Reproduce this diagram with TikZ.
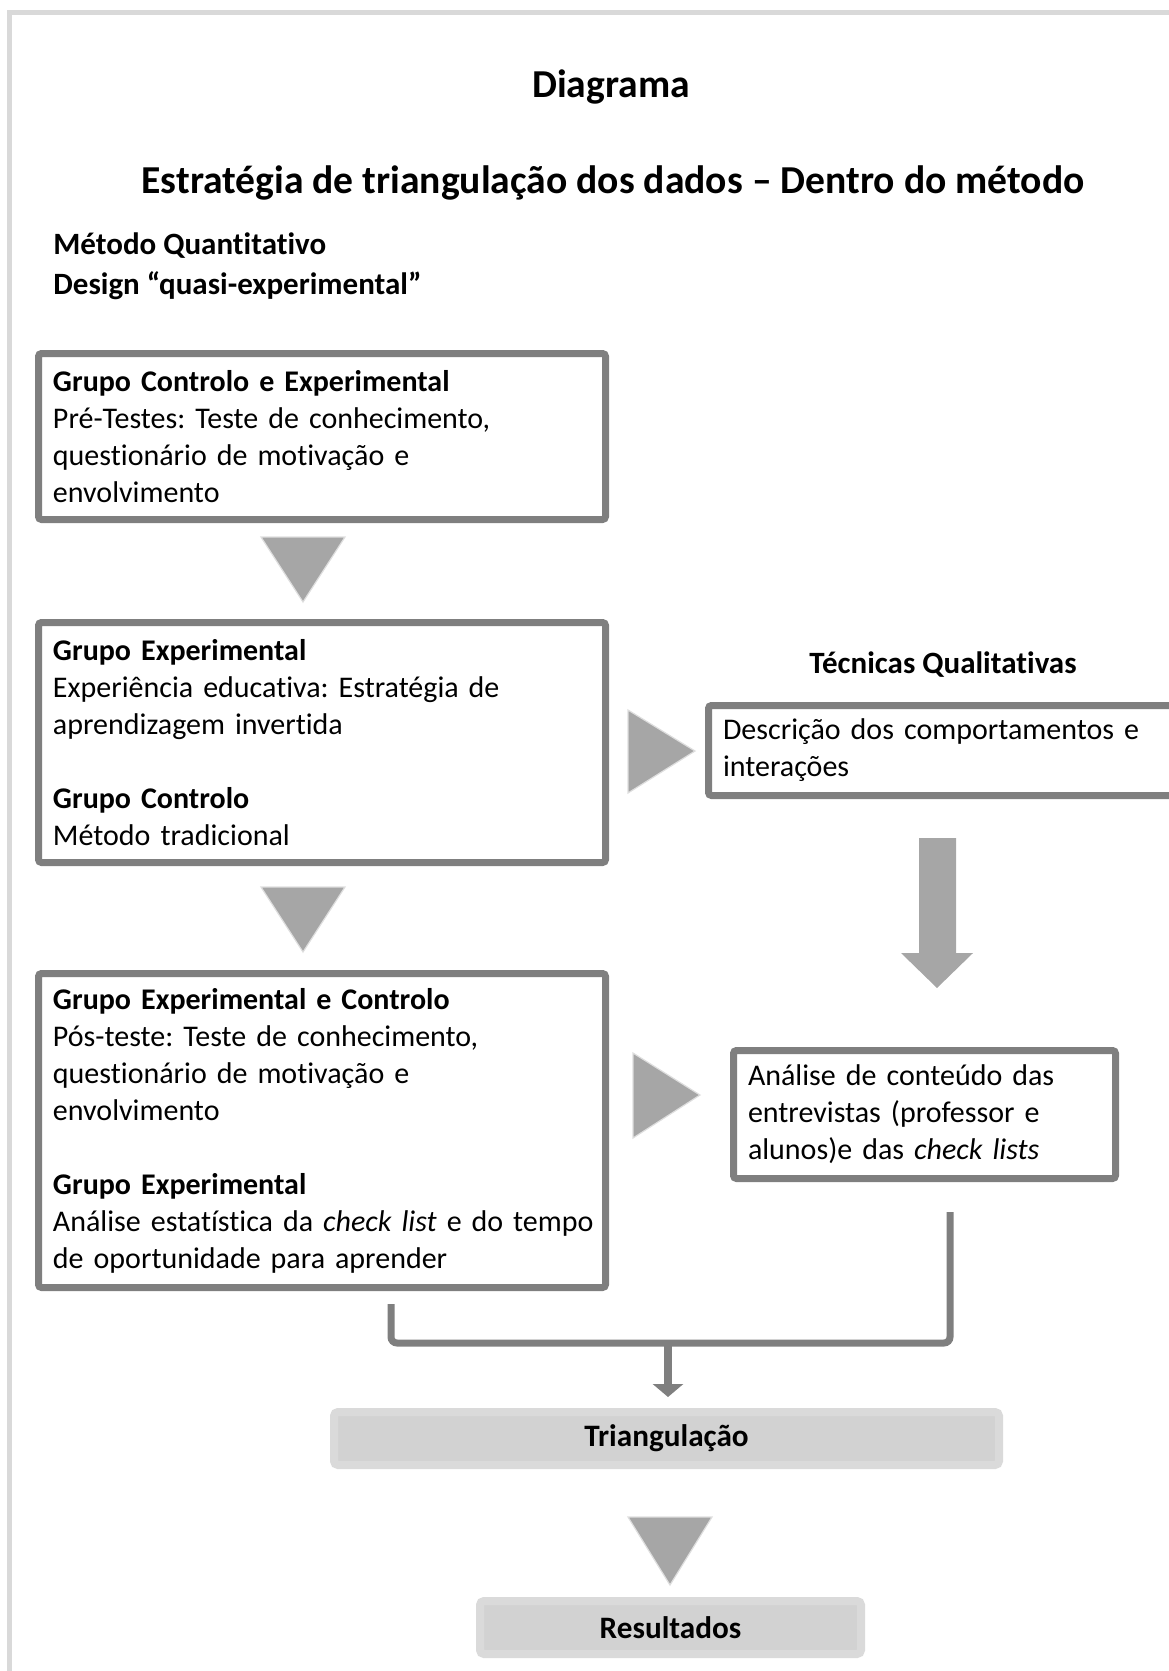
\documentclass[tikz,border=0pt]{standalone}
\usepackage{fontspec}
\setmainfont{Carlito}[Ligatures={TeX,NoCommon}]
\usepackage{tikz}
\usetikzlibrary{arrows.meta}
\frenchspacing
\definecolor{boxline}{RGB}{127,127,127}
\definecolor{triarrow}{RGB}{166,166,166}
\definecolor{triedge}{RGB}{222,222,222}
\definecolor{frameline}{RGB}{217,217,217}
\definecolor{resblock}{RGB}{218,218,218}
\definecolor{resinner}{RGB}{210,210,210}

\tikzset{
	qbox/.style={draw=boxline, line width=3.5pt, rounded corners=1.5pt, fill=white,
		inner xsep=7.25pt, inner ysep=0pt, align=left, font=\fontsize{15}{18.5}\selectfont},
	resbox/.style={draw=resblock, fill=resinner, line width=4pt, rounded corners=2pt,
		minimum height=26.5pt, font=\bfseries\fontsize{15.6}{18.5}\selectfont},
	tri/.style={fill=triarrow, draw=triedge, line width=0.6pt},
	bracket/.style={draw=boxline, line width=3.5pt, rounded corners=3pt},
}

\begin{document}
\begin{tikzpicture}[x=0.5pt, y=-0.5pt]
			\def\labelfont{\bfseries\fontsize{15.5}{20}\selectfont}
			\def\headfont{\bfseries\fontsize{19.8}{23}\selectfont}
			\useasboundingbox (0,0) rectangle (1168,1671);

			% outer frame, only top and left edges show
			\draw[frameline, line width=2.5pt] (9.5,1680) -- (9.5,12.5) -- (1180,12.5);

			% headings
			\node[font=\headfont] (diag) at (611,87) {Diagrama};
			\node[font=\headfont] (titulo) at (613,183) {Estratégia de triangulação dos dados – Dentro do método};
			\node[anchor=west, align=left, inner sep=0pt, font=\labelfont] (metodo) at (53,266)
				{Método Quantitativo\\Design “quasi-experimental”};

			% quantitative column
			\node[qbox, minimum width=283.5pt, minimum height=83pt, text width=269pt] (pre) at (322,436.5)
				{\textbf{Grupo Controlo e Experimental}\\Pré-Testes: Teste de conhecimento,\\questionário de motivação e\\envolvimento};
			\node[qbox, minimum width=283.5pt, minimum height=120pt, text width=269pt] (exp) at (322,742.5)
				{\textbf{Grupo Experimental}\\Experiência educativa: Estratégia de\\aprendizagem invertida\\[18.5pt]\textbf{Grupo Controlo}\\Método tradicional};
			\node[qbox, minimum width=283.5pt, minimum height=157pt, text width=269pt] (pos) at (322,1130.5)
				{\textbf{Grupo Experimental e Controlo}\\Pós-teste: Teste de conhecimento,\\questionário de motivação e\\envolvimento\\[18.5pt]\textbf{Grupo Experimental}\\\mbox{Análise estatística da \textit{check list} e do tempo}\\de oportunidade para aprender};

			% qualitative column
			\node[font=\labelfont] (tecq) at (943,665) {Técnicas Qualitativas};
			\node[qbox, minimum width=237.5pt, minimum height=45pt, text width=223pt] (desc) at (946,750.5)
				{Descrição dos comportamentos e\\interações};
			\node[qbox, minimum width=191pt, minimum height=64pt, text width=176.5pt] (conteudo) at (924.5,1114.5)
				{Análise de conteúdo das\\entrevistas (professor e\\alunos)e das \textit{check lists}};

			% triangles between the boxes
			\fill[tri] (261,537) -- (345,537) -- (303,602) -- cycle;
			\fill[tri] (261,887) -- (345,887) -- (303,952) -- cycle;
			\fill[tri] (628,710) -- (695,751) -- (628,793) -- cycle;
			\fill[tri] (633,1053) -- (700,1095) -- (633,1138) -- cycle;

			% block arrow desc -> conteudo
			\fill[triarrow] (919,838) -- (956,838) -- (956,953) -- (973,953) -- (937,988)
				-- (901,953) -- (919,953) -- cycle;

			% final steps
			\node[resbox, minimum width=332.5pt] (triang) at (666.5,1438.5) {Triangulação};
			\node[resbox, minimum width=190.5pt] (result) at (670.5,1627.5) {Resultados};
			\fill[tri] (628,1517) -- (712,1517) -- (670,1585) -- cycle;

			% bracket joining both columns
			\coordinate (jl) at (391,1304);
			\coordinate (jr) at (950,1212);
			\coordinate (jm) at (668,1343);
			\draw[bracket] (jl) |- (jm) -| (jr);
			\draw[boxline, line width=4.3pt, shorten >=5.5pt, -{Triangle[width=15pt,length=6.5pt]}] (jm) -- (jm |- triang.north);

		\end{tikzpicture}
\end{document}
